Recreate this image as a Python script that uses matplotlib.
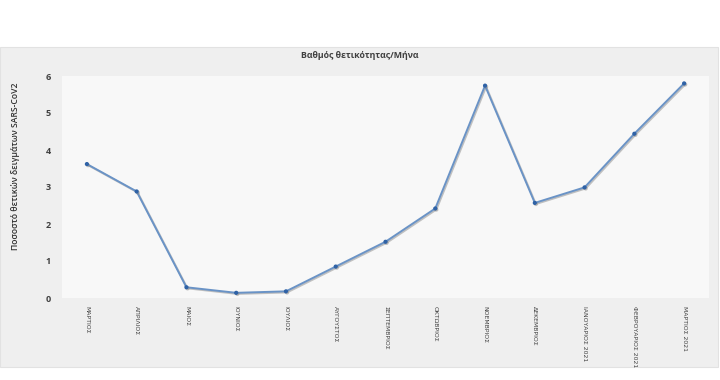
import matplotlib
matplotlib.use("Agg")
import matplotlib.pyplot as plt
import matplotlib.patheffects as pe
from matplotlib.patches import Rectangle

months = ["ΜΑΡΤΙΟΣ", "ΑΠΡΙΛΙΟΣ", "ΜΑΙΟΣ", "ΙΟΥΝΙΟΣ", "ΙΟΥΛΙΟΣ", "ΑΥΓΟΥΣΤΟΣ",
          "ΣΕΠΤΕΜΒΡΙΟΣ", "ΟΚΤΩΒΡΙΟΣ", "ΝΟΕΜΒΡΙΟΣ", "ΔΕΚΕΜΒΡΙΟΣ",
          "ΙΑΝΟΥΑΡΙΟΣ 2021", "ΦΕΒΡΟΥΑΡΙΟΣ 2021", "ΜΑΡΤΙΟΣ 2021"]
positivity = [3.62, 2.88, 0.29, 0.14, 0.18, 0.85, 1.52, 2.42, 5.74, 2.57, 2.99, 4.44, 5.80]
y_ticks = [0, 1, 2, 3, 4, 5, 6]

plt.rcParams['font.family'] = ['Open Sans', 'DejaVu Sans']

fig = plt.figure(figsize=(7.2, 3.8), dpi=100)
fig.patch.set_facecolor('white')
# outer chart panel
fig.patches.append(Rectangle((0, 1 - 367/380), 718/720, (367-47)/380,
                             transform=fig.transFigure, facecolor='#efefef',
                             edgecolor='#e2e2e2', linewidth=0.8, zorder=-5))

ax = fig.add_axes([62/720, 1 - 298/380, (709-62)/720, (298-76)/380])
ax.set_facecolor('#f8f8f8')
x = list(range(len(months)))
ax.plot(x, positivity, color='#6a93c6', linewidth=1.4, marker='o', markersize=2.0,
        markerfacecolor='#2f62a6', markeredgecolor='#2f62a6',
        path_effects=[pe.SimpleLineShadow(offset=(0.8, -0.8), shadow_color='#888888', alpha=0.5),
                      pe.Normal()])
ax.set_xlim(-0.5, len(months) - 0.5)
ax.set_ylim(0, 6)
ax.set_yticks(y_ticks)
ax.set_yticklabels([str(v) for v in y_ticks], fontsize=6.5, fontweight='bold', color='#404040')
ax.set_xticks(x)
ax.set_xticklabels(months, rotation=270, fontsize=4.4, color='#404040',
                   family=['Liberation Sans Narrow', 'DejaVu Sans'])
ax.tick_params(axis='both', length=0, pad=8)
ax.tick_params(axis='x', pad=6)
for s in ax.spines.values():
    s.set_visible(False)

fig.text(0.5, 1 - 56/380, "Βαθμός θετικότητας/Μήνα", ha='center', va='center',
         fontsize=6.3, fontweight='bold', color='#404040')
fig.text(16/720, 1 - 166/380, "Ποσοστό θετικών δειγμάτων SARS-CoV2", rotation=90,
         ha='center', va='center', fontsize=6.2, fontweight='semibold', color='#303030')

fig.savefig("out.png", dpi=100, facecolor=fig.get_facecolor())
